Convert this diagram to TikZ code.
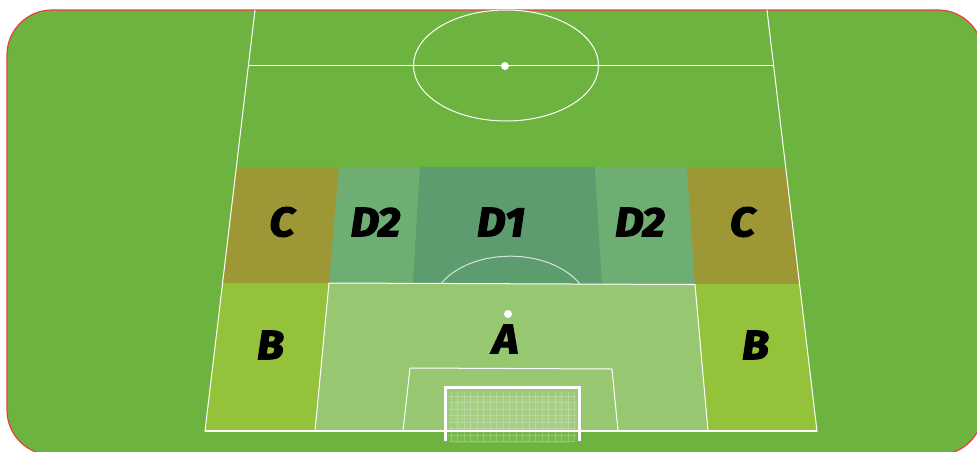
\documentclass[tikz,border=0pt]{standalone}
\usepackage{xcolor}
\usepackage{fontspec}
\usepackage{tikz}
\newfontfamily\zonefont{Fira Sans}[BoldItalicFeatures={FakeBold=3, FakeStretch=1.08}]
\definecolor{grass}{HTML}{6DB33F}
\definecolor{edgered}{HTML}{E8413C}
\definecolor{zonea}{HTML}{98C771}
\definecolor{zoneb}{HTML}{94C33B}
\definecolor{zonec}{HTML}{9E9736}
\definecolor{zonedtwo}{HTML}{6EAE73}
\definecolor{zonedone}{HTML}{5C9C6F}
\tikzset{
    pitchline/.style={draw=white, line width=1pt},
    zonelabel/.style={font=\zonefont\bfseries\itshape\fontsize{41}{41}\selectfont, text=black, inner sep=0pt},
    netline/.style={draw=white, opacity=0.2, line width=0.9pt}
}

\begin{document}
\begin{tikzpicture}[x=1pt, y=-1pt]
    \useasboundingbox (0, 0) rectangle (977, 451);
    \clip (0, 0) rectangle (977, 451);
    % Ground
    \fill[white] (0, 0) rectangle (977, 451);
    \draw[edgered, fill=grass, line width=1.2pt, rounded corners=45pt] (7, 10) rectangle (983, 455);

    % Zones
    \fill[zonec] (236, 167) -- (339, 167) -- (329, 283) -- (223, 283) -- cycle;
    \fill[zonedtwo] (339, 167) -- (420, 167) -- (413, 283) -- (329, 283) -- cycle;
    \fill[zonedone] (420, 167) -- (595, 167) -- (602, 284) -- (413, 283) -- cycle;
    \fill[zonedtwo] (595, 167) -- (687, 167) -- (695, 284) -- (602, 284) -- cycle;
    \fill[zonec] (687, 167) -- (786, 167) -- (800, 284) -- (695, 284) -- cycle;
    \fill[zoneb] (223, 283) -- (329, 283) -- (315, 431) -- (205, 431) -- cycle;
    \fill[zoneb] (695, 284) -- (800, 284) -- (817, 431) -- (708, 431) -- cycle;
    \fill[zonea] (329, 283) -- (695, 284.5) -- (708, 431) -- (315, 431) -- cycle;

    % Halfway line and centre circle
    \draw[pitchline] (255, 10) -- (205, 431) -- (817, 431) -- (767, 10);
    \draw[pitchline] (248, 65.5) -- (774, 65.5);
    \draw[pitchline] (506, 65.5) ellipse [x radius=92.5, y radius=55.5];
    \fill[white] (505, 66) circle (4);

    % Penalty area
    \draw[pitchline] (315, 431) -- (329, 283) -- (695, 284.5) -- (708, 431);
    \draw[pitchline, draw=white!75!zonedone] (441, 283.5) .. controls (472, 247) and (549, 247) .. (580, 284);
    \fill[white] (508, 314) circle (4);

    % Six yard box
    \draw[pitchline] (403, 431) -- (410, 368) -- (612, 369) -- (618, 431);

    % Net
    \fill[white, opacity=0.08, rounded corners=8pt] (447, 391) rectangle (577, 443);
    \fill[white, opacity=0.07, rounded corners=12pt] (453, 397) rectangle (571, 431);
    \foreach \xnet in {451, 457.5, ..., 575} {
        \draw[netline] (\xnet, 392) -- (\xnet, 442);
    }
    \foreach \ynet in {396, 402.5, ..., 443} {
        \draw[netline] (449, \ynet) -- (575, \ynet);
    }
    \draw[pitchline, line width=1.5pt] (205, 431) -- (817, 431);

    % Goal
    \draw[white, line width=3pt] (445, 441) -- (445, 387) -- (579.5, 387) -- (579.5, 441);

    % Labels
    \node[zonelabel] (cleft) at (282, 222) {C};
    \node[zonelabel] (dtwoleft) at (375.5, 222) {D2};
    \node[zonelabel] (done) at (501, 222) {D1};
    \node[zonelabel] (dtworight) at (640, 222) {D2};
    \node[zonelabel] (cright) at (742.5, 222) {C};
    \node[zonelabel] (bleft) at (270.5, 345) {B};
    \node[zonelabel] (azone) at (505.5, 339) {A};
    \node[zonelabel] (bright) at (755.5, 345) {B};
\end{tikzpicture}
\end{document}
